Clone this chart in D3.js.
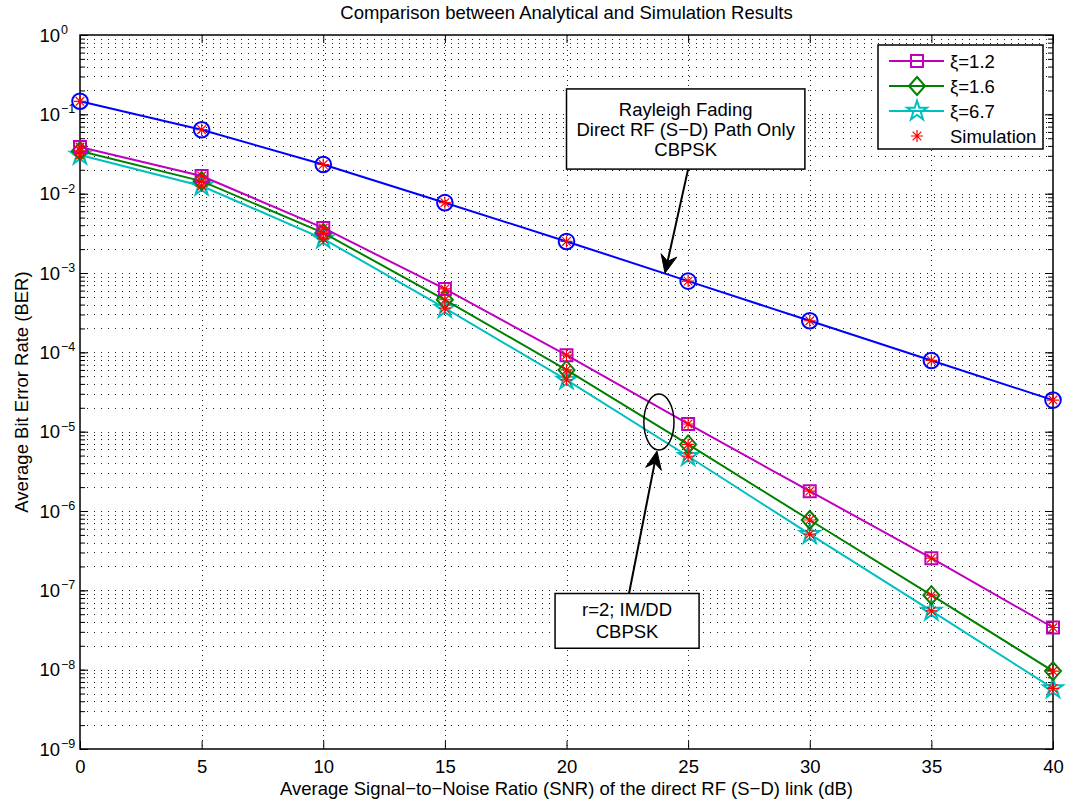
<!DOCTYPE html>
<html>
<head>
<meta charset="utf-8">
<script src="https://cdn.jsdelivr.net/npm/d3@7"></script>
<style>
  html, body { margin: 0; padding: 0; background: #fff; }
  svg { display: block; font-family: "Liberation Sans", Arial, Helvetica, sans-serif; }
</style>
</head>
<body>
<svg id="chart" width="1072" height="803"></svg>
<script>
// SNR points (dB)
const snr = [0, 5, 10, 15, 20, 25, 30, 35, 40];

// Direct RF (S-D) path only, Rayleigh fading, CBPSK
const berRayleigh = [0.146, 0.064, 0.0233, 0.0077, 0.0025, 7.9e-4, 2.5e-4, 7.9e-5, 2.5e-5];

// r=2, IM/DD, CBPSK for three values of xi
const berXi12 = [0.0387, 0.0167, 0.0037, 6.3e-4, 9.2e-5, 1.25e-5, 1.78e-6, 2.54e-7, 3.4e-8];
const berXi16 = [0.0345, 0.0144, 0.0032, 4.6e-4, 6.0e-5, 6.9e-6, 7.7e-7, 8.7e-8, 9.6e-9];
const berXi67 = [0.0307, 0.0125, 0.0027, 3.6e-4, 4.5e-5, 4.9e-6, 5.1e-7, 5.5e-8, 5.8e-9];

const xTicks = [0, 5, 10, 15, 20, 25, 30, 35, 40];
const yExponents = [0, -1, -2, -3, -4, -5, -6, -7, -8, -9];

const legendLabels = ["ξ=1.2", "ξ=1.6", "ξ=6.7", "Simulation"];

const titleText = "Comparison between Analytical and Simulation Results";
const xLabelText = "Average Signal\u2212to\u2212Noise Ratio (SNR) of the direct RF (S\u2212D) link (dB)";
const yLabelText = "Average Bit Error Rate (BER)";

const boxRayleighLines = ["Rayleigh Fading", "Direct RF (S\u2212D) Path Only", "CBPSK"];
const boxIMDDLines = ["r=2; IM/DD", "CBPSK"];

const FS = 18.5;

const svg = d3.select("#chart");
const L = 80, R = 1053, T = 35, B = 749;

const x = d3.scaleLinear().domain([0, 40]).range([L, R]);
const y = d3.scaleLog().domain([1e-9, 1]).range([B, T]);

// ---- grid: dotted at every decade sub-step and at major SNR ticks ----
const grid = svg.append("g").attr("stroke", "#222").attr("stroke-width", 1).attr("fill", "none");
const minorVals = [];
for (let k = -9; k < 0; k++) for (let m = 1; m <= 9; m++) minorVals.push(m * Math.pow(10, k));
minorVals.filter(v => v > 1e-9).forEach(v => {
  grid.append("line").attr("x1", L).attr("x2", R).attr("stroke-dasharray", "1,6")
    .attr("y1", Math.round(y(v)) + 0.5).attr("y2", Math.round(y(v)) + 0.5);
});
xTicks.filter(t => t > 0 && t < 40).forEach(t => {
  grid.append("line").attr("y1", T).attr("y2", B).attr("stroke-dasharray", "1,4")
    .attr("x1", Math.round(x(t)) + 0.5).attr("x2", Math.round(x(t)) + 0.5);
});

// ---- axes with inward ticks ----
const axG = svg.append("g");
const xAxB = d3.axisBottom(x).tickValues(xTicks).tickSizeInner(-8).tickSizeOuter(0).tickPadding(11).tickFormat(d3.format("d"));
const xAxT = d3.axisTop(x).tickValues(xTicks).tickSizeInner(-8).tickSizeOuter(0).tickFormat("");
const yMinor = minorVals.filter(v => v > 1e-9 && v < 1);
const yAxL = d3.axisLeft(y).tickValues(yMinor).tickSizeInner(-5).tickSizeOuter(0).tickFormat("");
const yAxR = d3.axisRight(y).tickValues(yMinor).tickSizeInner(-5).tickSizeOuter(0).tickFormat("");
const yMajL = d3.axisLeft(y).tickValues(yExponents.map(e => Math.pow(10, e))).tickSizeInner(-8).tickSizeOuter(0).tickFormat("");
const yMajR = d3.axisRight(y).tickValues(yExponents.map(e => Math.pow(10, e))).tickSizeInner(-8).tickSizeOuter(0).tickFormat("");

function styleAxis(g) {
  g.select(".domain").remove();
  g.selectAll(".tick line").attr("stroke", "#000").attr("stroke-width", 1);
  g.selectAll(".tick text").attr("fill", "#000").attr("font-size", FS)
    .attr("font-family", "Liberation Sans, Arial, sans-serif");
}
axG.append("g").attr("transform", `translate(0,${B})`).call(xAxB).call(styleAxis);
axG.append("g").attr("transform", `translate(0,${T})`).call(xAxT).call(styleAxis);
axG.append("g").attr("transform", `translate(${L},0)`).call(yAxL).call(styleAxis);
axG.append("g").attr("transform", `translate(${R},0)`).call(yAxR).call(styleAxis);
axG.append("g").attr("transform", `translate(${L},0)`).call(yMajL).call(styleAxis);
axG.append("g").attr("transform", `translate(${R},0)`).call(yMajR).call(styleAxis);

// frame
svg.append("rect").attr("x", L).attr("y", T).attr("width", R - L).attr("height", B - T)
  .attr("fill", "none").attr("stroke", "#000").attr("stroke-width", 1.5);

// y tick labels as 10^k
const yLab = svg.append("g").attr("font-size", FS).attr("fill", "#000");
yExponents.forEach(e => {
  const ty = y(Math.pow(10, e));
  yLab.append("text").attr("x", 60).attr("y", ty + 6.5).attr("text-anchor", "end").text("10");
  yLab.append("text").attr("x", 61).attr("y", ty - 1).attr("font-size", 12.5)
    .text(e === 0 ? "0" : "\u2212" + Math.abs(e));
});

// ---- series ----
const colMag = "#bf00bf", colGrn = "#008000", colCyan = "#00bfbf", colBlue = "#0000ff", colRed = "#ff0000";
const line = d3.line().x(d => x(d[0])).y(d => y(d[1]));

const symSquare = "M-6,-6H6V6H-6Z";
const symDiamond = "M0,-9L8,0L0,9L-8,0Z";
const symStar = d3.symbol().type(d3.symbolStar).size(120)();
const symCircle = d3.symbol().type(d3.symbolCircle).size(Math.PI * 7.8 * 7.8)();
const symAsterisk = "M-6,0H6M0,-6V6M-4.3,-4.3L4.3,4.3M-4.3,4.3L4.3,-4.3";

const series = [
  { vals: berRayleigh, color: colBlue, sym: symCircle },
  { vals: berXi67, color: colCyan, sym: symStar },
  { vals: berXi16, color: colGrn, sym: symDiamond },
  { vals: berXi12, color: colMag, sym: symSquare }
];
const plot = svg.append("g");
series.forEach(s => {
  const pts = snr.map((v, i) => [v, s.vals[i]]);
  plot.append("path").attr("d", line(pts)).attr("fill", "none").attr("stroke", s.color).attr("stroke-width", 2);
  plot.selectAll(null).data(pts).enter().append("path")
    .attr("transform", d => `translate(${x(d[0])},${y(d[1])})`)
    .attr("d", s.sym).attr("fill", "none").attr("stroke", s.color).attr("stroke-width", 2);
});
// simulation points
series.forEach(s => {
  const pts = snr.map((v, i) => [v, s.vals[i]]);
  plot.selectAll(null).data(pts).enter().append("path")
    .attr("transform", d => `translate(${x(d[0])},${y(d[1])})`)
    .attr("d", symAsterisk).attr("fill", "none").attr("stroke", colRed).attr("stroke-width", 1.2);
});

// ---- annotations (placed in data units) ----
const ann = svg.append("g");
function arrow(x0, y0, x1, y1) {
  const px0 = x(x0), py0 = y(y0), px1 = x(x1), py1 = y(y1);
  const ang = Math.atan2(py1 - py0, px1 - px0);
  const len = 18, wid = 8, back = 12;
  const bx = px1 - len * Math.cos(ang), by = py1 - len * Math.sin(ang);
  const nx = -Math.sin(ang), ny = Math.cos(ang);
  const mx = px1 - back * Math.cos(ang), my = py1 - back * Math.sin(ang);
  ann.append("line").attr("x1", px0).attr("y1", py0).attr("x2", mx).attr("y2", my)
    .attr("stroke", "#000").attr("stroke-width", 2);
  ann.append("path")
    .attr("d", `M${px1},${py1}L${bx + wid * nx},${by + wid * ny}L${mx},${my}L${bx - wid * nx},${by - wid * ny}Z`)
    .attr("fill", "#000").attr("stroke", "#000").attr("stroke-width", 1);
}
function textBox(x0, x1, yTop, yBot, lines, lineH) {
  const px0 = x(x0), px1 = x(x1), py0 = y(yTop), py1 = y(yBot);
  ann.append("rect").attr("x", px0).attr("y", py0).attr("width", px1 - px0).attr("height", py1 - py0)
    .attr("fill", "#fff").attr("stroke", "#000").attr("stroke-width", 1.5);
  const cx = (px0 + px1) / 2, cy = (py0 + py1) / 2;
  lines.forEach((ln, i) => {
    ann.append("text").attr("x", cx).attr("y", cy + (i - (lines.length - 1) / 2) * lineH + 6.5)
      .attr("text-anchor", "middle").attr("font-size", FS).attr("fill", "#000").text(ln);
  });
}
arrow(25.0, 0.0204, 24.05, 1.0e-3);
textBox(20.0, 29.8, 0.209, 0.0204, boxRayleighLines, 20);

// ellipse around the IM/DD curves at 24 dB
const ex = x(23.8), ey = y(1.32e-5);
ann.append("ellipse").attr("cx", ex).attr("cy", ey)
  .attr("rx", x(23.8 + 0.62) - ex).attr("ry", y(1.32e-5 / Math.pow(10, 0.353)) - ey)
  .attr("fill", "none").attr("stroke", "#000").attr("stroke-width", 1.5);
arrow(22.57, Math.pow(10, -7.04), 23.72, 5.68e-6);
textBox(19.53, 25.45, Math.pow(10, -7.04), Math.pow(10, -7.73), boxIMDDLines, 22);

// ---- legend ----
const lg = svg.append("g");
lg.append("rect").attr("x", 878).attr("y", 45).attr("width", 165).attr("height", 104)
  .attr("fill", "#fff").attr("stroke", "#000").attr("stroke-width", 1.5);
const legItems = [
  { color: colMag, sym: symSquare, line: true },
  { color: colGrn, sym: symDiamond, line: true },
  { color: colCyan, sym: symStar, line: true },
  { color: colRed, sym: symAsterisk, line: false }
];
legItems.forEach((it, i) => {
  const ly = 61 + i * 25;
  if (it.line) {
    lg.append("line").attr("x1", 889).attr("x2", 944).attr("y1", ly).attr("y2", ly)
      .attr("stroke", it.color).attr("stroke-width", 2);
  }
  lg.append("path").attr("transform", `translate(917,${ly})`).attr("d", it.sym)
    .attr("fill", "none").attr("stroke", it.color).attr("stroke-width", it.line ? 2 : 1.2);
  lg.append("text").attr("x", 950).attr("y", ly + 6.5).attr("font-size", FS).attr("fill", "#000").text(legendLabels[i]);
});

// ---- titles ----
svg.append("text").attr("x", (L + R) / 2).attr("y", 19).attr("text-anchor", "middle")
  .attr("font-size", FS).attr("fill", "#000").text(titleText);
svg.append("text").attr("x", (L + R) / 2).attr("y", 795).attr("text-anchor", "middle")
  .attr("font-size", FS).attr("fill", "#000").text(xLabelText);
svg.append("text").attr("transform", `translate(28,${(T + B) / 2}) rotate(-90)`).attr("text-anchor", "middle")
  .attr("font-size", FS).attr("fill", "#000").text(yLabelText);
</script>
</body>
</html>
